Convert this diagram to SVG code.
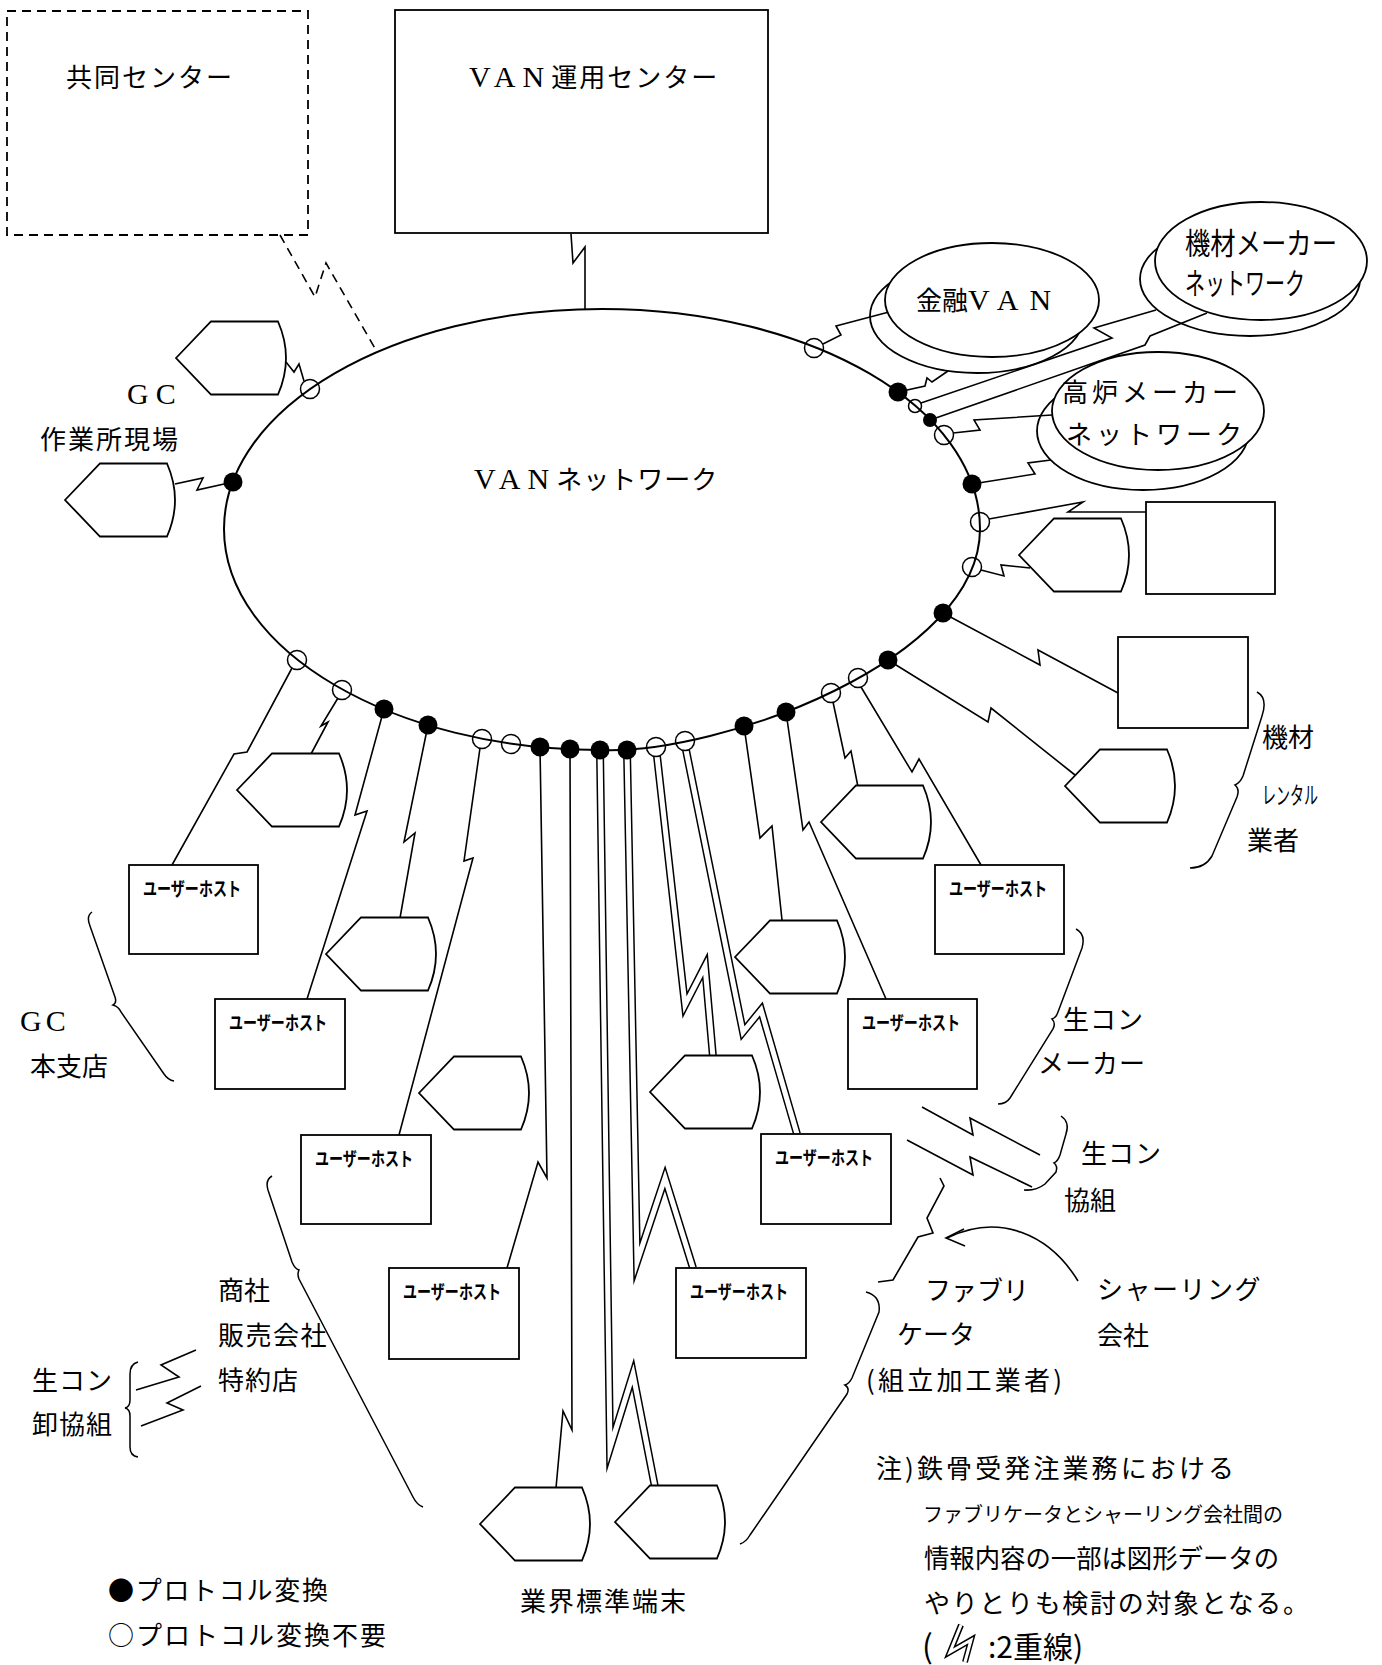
<svg xmlns="http://www.w3.org/2000/svg" width="1382" height="1665" viewBox="0 0 1382 1665">
<defs>
<style>
.ln{fill:none;stroke:#000;stroke-width:1.6;stroke-linejoin:miter;stroke-miterlimit:12}
.dash{stroke-dasharray:9 6}
.dO{fill:none;stroke:#000;stroke-width:8;stroke-linejoin:miter;stroke-miterlimit:20}
.dI{fill:none;stroke:#fff;stroke-width:5;stroke-linejoin:miter;stroke-miterlimit:20}
.nd{fill:#fff;stroke:#000;stroke-width:1.8}
.bk{fill:none;stroke:#000;stroke-width:1.8}
.ring{fill:none;stroke:#000;stroke-width:2}
.on{fill:#000}
.off{fill:none;stroke:#000;stroke-width:1.5}
.br{fill:none;stroke:#000;stroke-width:1.5}
.t{font-family:"Noto Sans CJK JP","Noto Sans CJK SC",sans-serif;font-size:26px;fill:#000}
.lat{font-family:"Liberation Serif",serif;font-size:30px}
.hw{font-family:"Noto Sans CJK JP","Noto Sans CJK SC",sans-serif;font-size:19px;font-weight:700;fill:#000}
.hw2{font-family:"Noto Sans CJK JP","Noto Sans CJK SC",sans-serif;font-size:30px;fill:#000}
</style>
<path id="term" d="M0,0 L35,-36.5 L102,-36.5 Q118,0 102,36.5 L35,36.5 Z"/>
</defs>
<rect width="1382" height="1665" fill="#fff"/>

<g id="connectors">
<path class="ln" d="M571,234 L573,263 L585,247 L585,309"/>
<path class="ln dash" d="M280,235 L315,297 L326,263 L377,352"/>
<path class="ln" d="M286,362 L294,372 L299,364 L304,381"/>
<path class="ln" d="M175,484 L203,478 L197,490 L233,482"/>
<path class="ln" d="M823,344 L841,335 L836,326 L889,312"/>
<path class="ln" d="M898,392 L925,386 L927,378 L932,382 L948,371"/>
<path class="ln" d="M921,403 L1112,338 L1094,328 L1156,310"/>
<path class="ln" d="M930,420 L1145,345 L1150,336 L1207,313"/>
<path class="ln" d="M953,433 L980,430 L974,420 L1052,415"/>
<path class="ln" d="M972,484 L1035,474 L1028,463 L1051,460"/>
<path class="ln" d="M989,519 L1083,502 L1068,512 L1146,512"/>
<path class="ln" d="M981,570 L1004,576 L1001,565 L1030,568"/>
<path class="ln" d="M943,613 L1040,665 L1038,650 L1118,693"/>
<path class="ln" d="M888,660 L988,722 L991,708 L1075,775"/>
<path class="ln" d="M861,687 L912,772 L919,759 L981,865"/>
<path class="ln" d="M833,702 L845,758 L851,751 L858,787"/>
<path class="ln" d="M786,712 L803,830 L809,822 L886,999"/>
<path class="ln" d="M744,726 L760,838 L772,826 L782,920"/>
<path class="dO" d="M686,750 L743,1032 L761,1010 L797,1134"/>
<path class="dI" d="M686,750 L743,1032 L761,1010 L797,1134"/>
<path class="dO" d="M657,756 L685,1005 L705,966 L713,1057"/>
<path class="dI" d="M657,756 L685,1005 L705,966 L713,1057"/>
<path class="dO" d="M627,750 L637,1262 L665,1178 L693,1268"/>
<path class="dI" d="M627,750 L637,1262 L665,1178 L693,1268"/>
<path class="dO" d="M600,750 L610,1448 L633,1374 L655,1487"/>
<path class="dI" d="M600,750 L610,1448 L633,1374 L655,1487"/>
<path class="ln" d="M570,749 L572,1430 L563,1411 L556,1488"/>
<path class="ln" d="M540,747 L547,1178 L538,1162 L507,1268"/>
<path class="ln" d="M480,748 L464,861 L473,858 L399,1135"/>
<path class="ln" d="M428,725 L404,842 L415,833 L400,918"/>
<path class="ln" d="M384,709 L355,815 L367,811 L307,999"/>
<path class="ln" d="M338,698 L321,726 L328,722 L311,754"/>
<path class="ln" d="M292,668 L247,752 L234,754 L172,865"/>
<path class="ln" d="M922,1107 L973,1135 L970,1118 L1040,1155"/>
<path class="ln" d="M907,1140 L973,1175 L970,1157 L1032,1187"/>
<path class="ln" d="M196,1350 L161,1365 L179,1377 L136,1390"/>
<path class="ln" d="M201,1386 L167,1403 L183,1410 L141,1426"/>
<path class="ln" d="M940,1178 L944,1186 L927,1218 L933,1233 L918,1237 L893,1280 L878,1282"/>
<path class="ln" d="M1078,1281 C1050,1235 1000,1212 947,1238"/>
<path class="ln" d="M964,1229 L946,1238 L965,1246"/>
</g>

<g id="van-network">
<path class="ring" d="M602,309 C811,309 980,407.5 980,529 C980,660 720,755 600,750 C395,750 224,651 224,529 C224,407.5 393,309 602,309 Z"/>
<text class="t" x="474" y="489"><tspan class="lat" letter-spacing="7">VAN</tspan><tspan letter-spacing="1">ネットワーク</tspan></text>
<circle class="off" cx="310" cy="389" r="9.5"/>
<circle class="on" cx="233" cy="482" r="9.5"/>
<circle class="off" cx="297" cy="660" r="9.5"/>
<circle class="off" cx="342" cy="690" r="9.5"/>
<circle class="on" cx="384" cy="709" r="9.5"/>
<circle class="on" cx="428" cy="725" r="9.5"/>
<circle class="off" cx="482" cy="739" r="9.5"/>
<circle class="off" cx="511" cy="744" r="9.5"/>
<circle class="on" cx="540" cy="747" r="9.5"/>
<circle class="on" cx="570" cy="749" r="9.5"/>
<circle class="on" cx="600" cy="750" r="9.5"/>
<circle class="on" cx="627" cy="750" r="9.5"/>
<circle class="off" cx="656" cy="747" r="9.5"/>
<circle class="off" cx="685" cy="741" r="9.5"/>
<circle class="on" cx="744" cy="726" r="9.5"/>
<circle class="on" cx="786" cy="712" r="9.5"/>
<circle class="off" cx="831" cy="693" r="9.5"/>
<circle class="off" cx="858" cy="678" r="9.5"/>
<circle class="on" cx="888" cy="660" r="9.5"/>
<circle class="on" cx="943" cy="613" r="9.5"/>
<circle class="off" cx="972" cy="567" r="9.5"/>
<circle class="off" cx="980" cy="522" r="9.5"/>
<circle class="on" cx="972" cy="484" r="9.5"/>
<circle class="off" cx="944" cy="435" r="9.5"/>
<circle class="on" cx="930" cy="420" r="7"/>
<circle class="off" cx="915" cy="406" r="6.5"/>
<circle class="on" cx="898" cy="392" r="9.5"/>
<circle class="off" cx="814" cy="348" r="9.5"/>
</g>

<g id="kyodo-center">
<rect class="bk dash" x="7" y="11" width="301" height="224"/>
<text class="t" x="66" y="87" letter-spacing="2">共同センター</text>
</g>

<g id="van-center">
<rect class="nd" x="395" y="10" width="373" height="223"/>
<text class="t" x="469" y="87"><tspan class="lat" letter-spacing="7">VAN</tspan><tspan letter-spacing="2">運用センター</tspan></text>
</g>

<g id="kinyu-van">
<ellipse class="bk" cx="977" cy="316" rx="107" ry="57"/>
<ellipse class="nd" cx="992" cy="300" rx="107" ry="57"/>
<text class="t" x="916" y="310">金融<tspan class="lat" letter-spacing="11">VAN</tspan></text>
</g>

<g id="kizai-maker-network">
<ellipse class="bk" cx="1250" cy="279" rx="110" ry="57"/>
<ellipse class="nd" cx="1261" cy="261" rx="106" ry="59"/>
<text class="hw2" x="1185" y="254" textLength="152" lengthAdjust="spacingAndGlyphs">機材メーカー</text>
<text class="hw2" x="1185" y="294" textLength="120" lengthAdjust="spacingAndGlyphs">ネットワーク</text>
</g>

<g id="koro-maker-network">
<ellipse class="bk" cx="1143" cy="431" rx="106" ry="59"/>
<ellipse class="nd" cx="1158" cy="411" rx="106" ry="59"/>
<text class="t" x="1062" y="402" letter-spacing="4">高炉メーカー</text>
<text class="t" x="1066" y="444" letter-spacing="4">ネットワーク</text>
</g>

<g id="gc-site-terminal-1"><use href="#term" class="nd" x="176" y="358"/></g>
<g id="gc-site-terminal-2"><use href="#term" class="nd" x="65" y="500"/></g>
<g id="gc-site-label">
<text class="t lat" x="127" y="404" letter-spacing="7">GC</text>
<text class="t" x="40" y="449" letter-spacing="2">作業所現場</text>
</g>

<g id="right-box-1"><rect class="nd" x="1146" y="502" width="129" height="92"/></g>
<g id="right-terminal-1"><use href="#term" class="nd" x="1019" y="555"/></g>
<g id="rental-box"><rect class="nd" x="1118" y="637" width="130" height="91"/></g>
<g id="rental-terminal"><use href="#term" class="nd" x="1065" y="786"/></g>
<g id="rental-label">
<path class="br" d="M1257,692 Q1268,698 1262,716 L1243,776 Q1240,783 1235,785 Q1240,789 1237,797 L1212,856 Q1205,868 1190,868"/>
<text class="t" x="1262" y="747">機材</text>
<text class="t" x="1262" y="804" style="font-size:24px" textLength="56" lengthAdjust="spacingAndGlyphs">レンタル</text>
<text class="t" x="1247" y="850">業者</text>
</g>

<g id="host-1"><rect class="nd" x="129" y="865" width="129" height="89"/><text class="hw" x="143" y="896" textLength="98" lengthAdjust="spacingAndGlyphs">ユーザーホスト</text></g>
<g id="host-2"><rect class="nd" x="215" y="999" width="130" height="90"/><text class="hw" x="229" y="1030" textLength="98" lengthAdjust="spacingAndGlyphs">ユーザーホスト</text></g>
<g id="host-3"><rect class="nd" x="301" y="1135" width="130" height="89"/><text class="hw" x="315" y="1166" textLength="98" lengthAdjust="spacingAndGlyphs">ユーザーホスト</text></g>
<g id="host-4"><rect class="nd" x="389" y="1268" width="130" height="91"/><text class="hw" x="403" y="1299" textLength="98" lengthAdjust="spacingAndGlyphs">ユーザーホスト</text></g>
<g id="host-5"><rect class="nd" x="676" y="1268" width="130" height="90"/><text class="hw" x="690" y="1299" textLength="98" lengthAdjust="spacingAndGlyphs">ユーザーホスト</text></g>
<g id="host-6"><rect class="nd" x="761" y="1134" width="130" height="90"/><text class="hw" x="775" y="1165" textLength="98" lengthAdjust="spacingAndGlyphs">ユーザーホスト</text></g>
<g id="host-7"><rect class="nd" x="848" y="999" width="129" height="90"/><text class="hw" x="862" y="1030" textLength="98" lengthAdjust="spacingAndGlyphs">ユーザーホスト</text></g>
<g id="host-8"><rect class="nd" x="935" y="865" width="129" height="89"/><text class="hw" x="949" y="896" textLength="98" lengthAdjust="spacingAndGlyphs">ユーザーホスト</text></g>

<g id="terminal-1"><use href="#term" class="nd" x="237" y="790"/></g>
<g id="terminal-2"><use href="#term" class="nd" x="326" y="954"/></g>
<g id="terminal-3"><use href="#term" class="nd" x="419" y="1093"/></g>
<g id="terminal-4"><use href="#term" class="nd" x="650" y="1092"/></g>
<g id="terminal-5"><use href="#term" class="nd" x="735" y="957"/></g>
<g id="terminal-6"><use href="#term" class="nd" x="821" y="822"/></g>
<g id="std-terminal-1"><use href="#term" class="nd" x="480" y="1524"/></g>
<g id="std-terminal-2"><use href="#term" class="nd" x="615" y="1522"/></g>
<g id="std-terminal-label"><text class="t" x="520" y="1611" letter-spacing="2">業界標準端末</text></g>

<g id="gc-head-label">
<path class="br" d="M92,912 Q86,916 90,926 L115,997 Q117,1003 113,1005 Q119,1007 121,1012 L164,1074 Q168,1080 174,1081"/>
<text class="t lat" x="20" y="1031" letter-spacing="4">GC</text>
<text class="t" x="30" y="1076">本支店</text>
</g>

<g id="trading-label">
<path class="br" d="M272,1176 Q265,1180 268,1190 L292,1262 Q295,1269 299,1270 Q297,1274 299,1279 L413,1497 Q417,1505 423,1507"/>
<text class="t" x="218" y="1300">商社</text>
<text class="t" x="218" y="1345" letter-spacing="1.5">販売会社</text>
<text class="t" x="218" y="1390" letter-spacing="1">特約店</text>
</g>

<g id="namakon-oroshi-label">
<path class="br" d="M138,1362 Q130,1364 130,1374 L130,1400 Q130,1407 125,1408 Q130,1409 130,1416 L130,1447 Q130,1456 138,1457"/>
<text class="t" x="32" y="1390" letter-spacing="1">生コン</text>
<text class="t" x="32" y="1434" letter-spacing="1">卸協組</text>
</g>

<g id="namakon-maker-label">
<path class="br" d="M1076,929 Q1086,934 1082,948 L1058,1012 Q1056,1018 1052,1019 Q1056,1023 1053,1029 L1010,1098 Q1006,1104 998,1104"/>
<text class="t" x="1063" y="1029" letter-spacing="1">生コン</text>
<text class="t" x="1038" y="1073" letter-spacing="1">メーカー</text>
</g>

<g id="namakon-kyokumi-label">
<path class="br" d="M1061,1116 Q1070,1122 1066,1134 L1060,1155 Q1058,1161 1054,1163 Q1058,1166 1056,1172 L1045,1184 Q1036,1191 1024,1190"/>
<text class="t" x="1081" y="1163" letter-spacing="1">生コン</text>
<text class="t" x="1064" y="1210">協組</text>
</g>

<g id="fabricator-label">
<path class="br" d="M866,1292 Q881,1296 879,1312 L852,1378 Q849,1384 845,1385 Q850,1388 847,1394 L750,1535 Q746,1542 740,1544"/>
<text class="t" x="925" y="1300">ファブリ</text>
<text class="t" x="897" y="1344">ケータ</text>
<text class="t" x="866" y="1390" textLength="196">(組立加工業者)</text>
</g>

<g id="shearing-label">
<text class="t" x="1097" y="1299" letter-spacing="1.5">シャーリング</text>
<text class="t" x="1097" y="1345">会社</text>
</g>

<g id="legend">
<text class="t" x="108" y="1600" letter-spacing="1.7">●プロトコル変換</text>
<text class="t" x="108" y="1645" letter-spacing="2">○プロトコル変換不要</text>
</g>

<g id="note">
<text class="t" x="876" y="1478" textLength="358">注)鉄骨受発注業務における</text>
<text class="t" x="923" y="1522" style="font-size:20px">ファブリケータとシャーリング会社間の</text>
<text class="t" x="924" y="1568" textLength="355" lengthAdjust="spacingAndGlyphs">情報内容の一部は図形データの</text>
<text class="t" x="924" y="1613" textLength="385">やりとりも検討の対象となる。</text>
<path d="M961,1625 L950,1652 L971,1640 L965,1662" fill="none" stroke="#000" stroke-width="6" stroke-miterlimit="20"/>
<path d="M961,1625 L950,1652 L971,1640 L965,1662" fill="none" stroke="#fff" stroke-width="3" stroke-miterlimit="20"/>
<text class="t" x="922" y="1658" style="font-size:32px">(</text>
<text class="t" x="988" y="1658" style="font-size:30px">:2重線)</text>
</g>
</svg>
